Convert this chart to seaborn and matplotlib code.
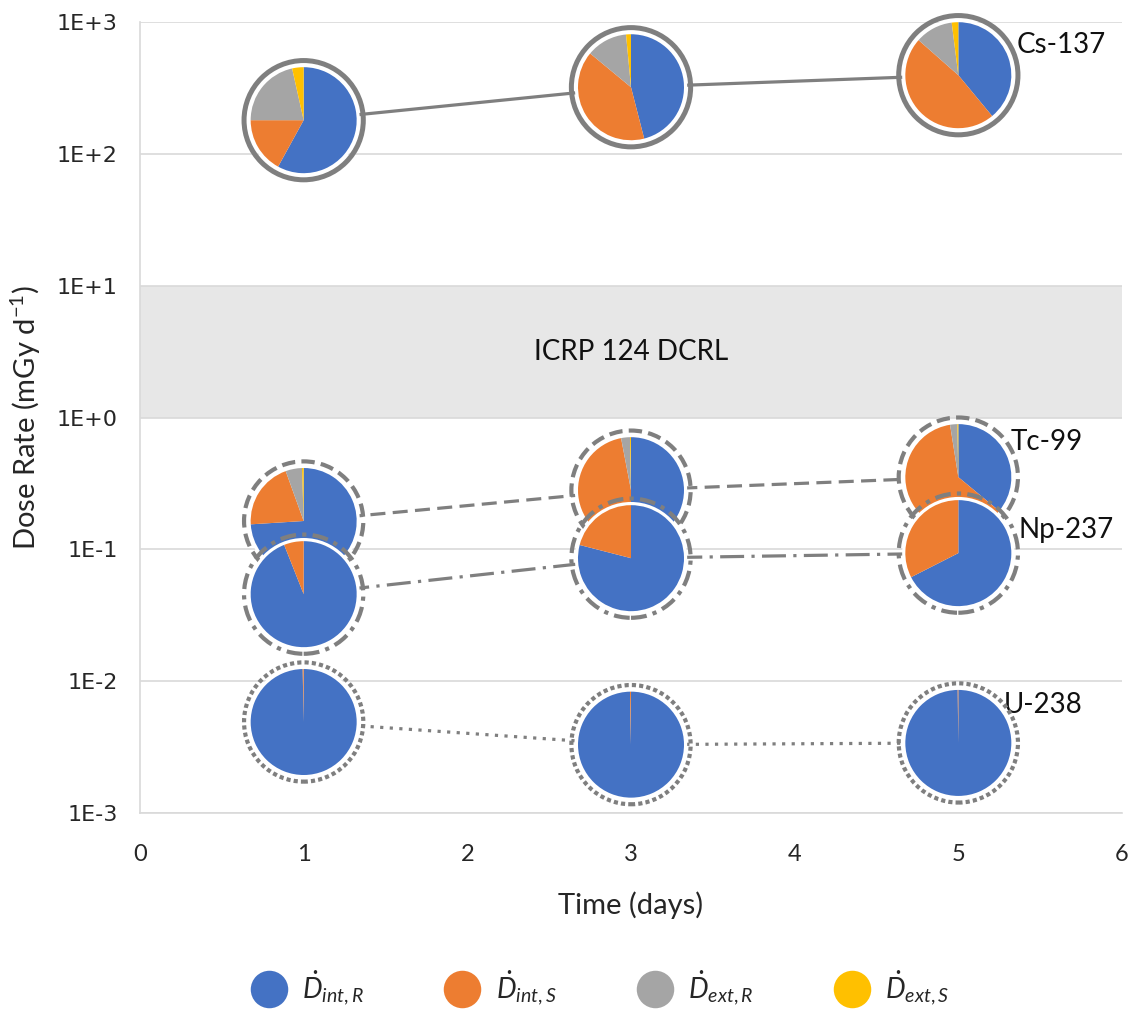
import numpy as np
import pandas as pd
import matplotlib
matplotlib.use("Agg")
import matplotlib.pyplot as plt
from matplotlib.patches import Circle
from matplotlib.lines import Line2D
from matplotlib.ticker import FixedLocator, FuncFormatter
import seaborn as sns

# ---- data -------------------------------------------------------------
days = [1, 3, 5]
nuclides = ["Cs-137", "Tc-99", "Np-237", "U-238"]

# total dose rate (mGy/d)
cs137 = [180, 320, 395]
tc99 = [0.164, 0.281, 0.353]
np237 = [0.0457, 0.0857, 0.0936]
u238 = [0.0049, 0.0033, 0.0034]

# share of each component: D_int,R  D_int,S  D_ext,R  D_ext,S
cs137_parts = [[0.58, 0.17, 0.215, 0.035],
               [0.46, 0.40, 0.125, 0.015],
               [0.39, 0.475, 0.115, 0.020]]
tc99_parts = [[0.74, 0.205, 0.050, 0.005],
              [0.50, 0.470, 0.027, 0.003],
              [0.36, 0.615, 0.022, 0.003]]
np237_parts = [[0.94, 0.06, 0.0, 0.0],
               [0.79, 0.21, 0.0, 0.0],
               [0.675, 0.325, 0.0, 0.0]]
u238_parts = [[0.997, 0.003, 0.0, 0.0],
              [0.997, 0.003, 0.0, 0.0],
              [0.998, 0.002, 0.0, 0.0]]

component_labels = [r"$\dot{D}_{int,R}$", r"$\dot{D}_{int,S}$",
                    r"$\dot{D}_{ext,R}$", r"$\dot{D}_{ext,S}$"]
dcrl_band = [1, 10]
y_ticks = [1e-3, 1e-2, 1e-1, 1e0, 1e1, 1e2, 1e3]

# ---- style ------------------------------------------------------------
sns.set_theme(style="white")
plt.rcParams["font.family"] = ["Lato", "DejaVu Sans"]
plt.rcParams["mathtext.fontset"] = "custom"
plt.rcParams["mathtext.rm"] = "Lato"
plt.rcParams["mathtext.it"] = "Lato:italic"

colors = ["#4472C4", "#ED7D31", "#A5A5A5", "#FFC000"]
line_gray = "#7f7f7f"
grid_gray = "#d9d9d9"

W, H = 1140, 1009
fig = plt.figure(figsize=(W / 100, H / 100), dpi=100)
ax = fig.add_axes([140 / W, 1 - 813 / H, (1122 - 140) / W, (813 - 22) / H])

ax.set_yscale("log")
ax.set_xlim(0, 6)
ax.set_ylim(1e-3, 1e3)

ax.axhspan(dcrl_band[0], dcrl_band[1], color="#e7e7e7", zorder=0, lw=0)
ax.text(3, np.sqrt(dcrl_band[0] * dcrl_band[1]), "ICRP 124 DCRL",
        ha="center", va="center", fontsize=20, color="#111111")

ax.yaxis.set_major_locator(FixedLocator(y_ticks))
ax.yaxis.set_minor_locator(FixedLocator([]))
ax.yaxis.set_major_formatter(FuncFormatter(lambda v, p: "1E%+d" % int(round(np.log10(v)))))
ax.set_xticks(range(0, 7))
ax.grid(axis="y", color=grid_gray, lw=1.2, zorder=0.5)
ax.grid(axis="x", visible=False)
for side in ["top", "right"]:
    ax.spines[side].set_visible(False)
for side in ["left", "bottom"]:
    ax.spines[side].set_color(grid_gray)
    ax.spines[side].set_linewidth(1.2)
ax.tick_params(axis="both", length=0)
ax.tick_params(axis="y", pad=16, labelsize=16)
ax.tick_params(axis="x", pad=22, labelsize=17)
for lab in ax.get_yticklabels():
    lab.set_family("DejaVu Sans")
ax.set_xlabel("Time (days)", fontsize=21, labelpad=19)
ax.set_ylabel(r"Dose Rate (mGy d$^{-1}$)", fontsize=21, labelpad=10)

# ---- connecting lines --------------------------------------------------
totals = {"Cs-137": cs137, "Tc-99": tc99, "Np-237": np237, "U-238": u238}
df = pd.DataFrame([{"Time": d, "Dose": v, "Nuclide": n}
                   for n in nuclides for d, v in zip(days, totals[n])])
line_dashes = {"Cs-137": "", "Tc-99": (4.7, 2.3),
               "Np-237": (7.5, 2.3, 1, 2.3), "U-238": (1, 2)}
sns.lineplot(data=df, x="Time", y="Dose", style="Nuclide", dashes=line_dashes,
             color=line_gray, lw=2.3, legend=False, ax=ax, zorder=2)

# ---- pies -------------------------------------------------------------
parts = {"Cs-137": cs137_parts, "Tc-99": tc99_parts,
         "Np-237": np237_parts, "U-238": u238_parts}
ring_style = {"Cs-137": "-", "Tc-99": (0, (3.2, 1.5)),
              "Np-237": (0, (3.8, 1.5, 1, 1.5)), "U-238": (0, (1, 0.75))}
pie_r = 53.0       # pie radius in pixels
box_r = 70.0       # half size of each pie axes in pixels

for n in nuclides:
    for d, v, frac in zip(days, totals[n], parts[n]):
        px, py = ax.transData.transform((d, v))
        pax = fig.add_axes([(px - box_r) / W, (py - box_r) / H,
                            2 * box_r / W, 2 * box_r / H])
        lim = box_r / pie_r
        pax.add_patch(Circle((0, 0), 1.06, facecolor="white", edgecolor="none", zorder=0))
        pax.pie(frac, colors=colors, startangle=90, counterclock=False,
                radius=1.0, wedgeprops=dict(linewidth=0))
        lw = 3.6 if n == "Cs-137" else 3.0
        pax.add_patch(Circle((0, 0), 1.125, fill=False, edgecolor=line_gray,
                             lw=lw, linestyle=ring_style[n], zorder=5))
        pax.set_xlim(-lim, lim)
        pax.set_ylim(-lim, lim)
        pax.set_aspect("equal")
        pax.axis("off")

# nuclide labels next to the last pie
label_offsets = {"Cs-137": (58, 30), "Tc-99": (52, 35),
                 "Np-237": (60, 23), "U-238": (45, 38)}
for n in nuclides:
    ax.annotate(n, (days[-1], totals[n][-1]), xytext=label_offsets[n],
                textcoords="offset pixels", ha="left", va="center",
                fontsize=20, color="#111111", zorder=10)

# ---- legend -----------------------------------------------------------
handles = [Line2D([], [], marker="o", ls="none", markersize=27,
                  markerfacecolor=c, markeredgecolor="none") for c in colors]
fig.legend(handles, component_labels, loc="center", ncol=4,
           bbox_to_anchor=(0.527, 1 - 988 / H), frameon=False, fontsize=20,
           handlelength=1.2, handletextpad=0.6, columnspacing=2.95)

fig.savefig("out.png", dpi=100)
